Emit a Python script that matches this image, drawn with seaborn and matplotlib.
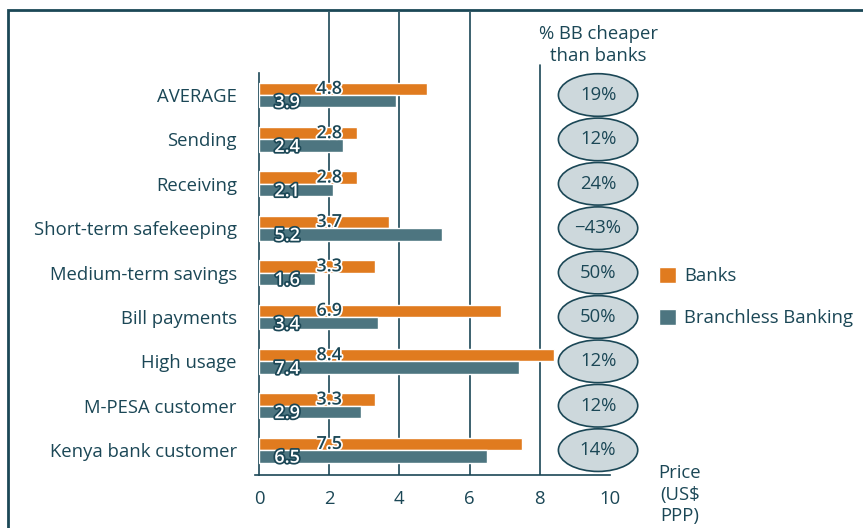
import pandas as pd
import seaborn as sns
import matplotlib.pyplot as plt
import matplotlib.patheffects as pe
from matplotlib.patches import Ellipse, Rectangle, Patch

categories = ["AVERAGE", "Sending", "Receiving", "Short-term safekeeping",
              "Medium-term savings", "Bill payments", "High usage",
              "M-PESA customer", "Kenya bank customer"]
banks = [4.8, 2.8, 2.8, 3.7, 3.3, 6.9, 8.4, 3.3, 7.5]
branchless = [3.9, 2.4, 2.1, 5.2, 1.6, 3.4, 7.4, 2.9, 6.5]
pct_cheaper = ["19%", "12%", "24%", "\u221243%", "50%", "50%", "12%", "12%", "14%"]

navy = "#1b4756"
orange = "#e07b1f"
slate = "#4d7580"

df = pd.DataFrame({
    "category": categories * 2,
    "price": banks + branchless,
    "series": ["Banks"] * len(categories) + ["Branchless Banking"] * len(categories),
})

sns.set_theme(style="white")
plt.rcParams['font.family'] = ['Open Sans', 'DejaVu Sans']
plt.rcParams['text.color'] = navy

fs = 13.3

fig = plt.figure(figsize=(8.63, 5.28), dpi=100)
ax = fig.add_axes([259 / 863, 53 / 528, 351 / 863, 463 / 528])

sns.barplot(data=df, y="category", x="price", hue="series", orient="h",
            palette=[orange, slate], width=0.56, saturation=1, ax=ax,
            legend=False, zorder=3)

ax.set_xlim(0, 10)
ax.set_ylim(8.56, -1.87)
ax.set_xlabel("")
ax.set_ylabel("")

# grid lines
for gx in [2, 4, 6]:
    ax.axvline(gx, color=navy, lw=1.2, zorder=1)
ax.axvline(8, ymax=0.885, color=navy, lw=1.2, zorder=1)

for s in ["top", "right"]:
    ax.spines[s].set_visible(False)
ax.spines["left"].set_color(navy)
ax.spines["bottom"].set_color(navy)
ax.spines["left"].set_linewidth(1.2)
ax.spines["bottom"].set_linewidth(1.2)
ax.spines["left"].set_bounds(-0.5, 8.56)
ax.spines["bottom"].set_bounds(-0.1, 10)

ax.set_xticks(range(0, 11, 2))
ax.tick_params(axis="x", colors=navy, labelsize=fs, length=6, width=1.2,
               direction="out", pad=5)
ax.set_yticks(range(len(categories)))
ax.set_yticklabels(categories)
ax.tick_params(axis="y", which="major", length=0, labelsize=fs, colors=navy, pad=16)
ax.set_yticks([i - 0.5 for i in range(len(categories) + 1)], minor=True)
ax.tick_params(axis="y", which="minor", length=6, width=1.2, color=navy, direction="out")

# value labels
for i, (b, bb) in enumerate(zip(banks, branchless)):
    ax.text(2.0, i - 0.14, f"{b}", ha="center", va="center", fontsize=13,
            fontweight="semibold", color=navy, zorder=5,
            path_effects=[pe.withStroke(linewidth=2.5, foreground="white")])
    ax.text(0.8, i + 0.17, f"{bb}", ha="center", va="center", fontsize=13,
            fontweight="semibold", color="white", zorder=5,
            path_effects=[pe.withStroke(linewidth=2.5, foreground=navy)])

# ellipses with % cheaper
ex = 9.66
for i, p in enumerate(pct_cheaper):
    e = Ellipse((ex, i), width=2.26, height=0.96, facecolor="#cdd8dc",
                edgecolor=navy, lw=1.2, clip_on=False, zorder=4)
    ax.add_patch(e)
    ax.text(ex, i, p, ha="center", va="center", fontsize=fs, color=navy,
            zorder=5, clip_on=False)

ax.text(ex, -1.13, "% BB cheaper\nthan banks", ha="center", va="center",
        fontsize=fs, color=navy, linespacing=1.3, clip_on=False)

fig.text(680 / 863, 1 - 495 / 528, "Price\n(US$\nPPP)", ha="center", va="center",
         fontsize=fs, color=navy, linespacing=1.25)

handles = [Patch(facecolor=orange, label="Banks"),
           Patch(facecolor=slate, label="Branchless Banking")]
leg = fig.legend(handles=handles, loc="center left",
                 bbox_to_anchor=(642 / 863, 1 - 297 / 528), frameon=False,
                 fontsize=fs, handlelength=0.95, handleheight=0.95,
                 handletextpad=0.45, labelspacing=1.3)
for t in leg.get_texts():
    t.set_color(navy)

# outer frame
fig.patches.append(Rectangle((8 / 863, -0.1), 1.2, 1 - 10 / 528 + 0.1,
                             transform=fig.transFigure, fill=False,
                             edgecolor=navy, lw=2))

fig.savefig("out.png", dpi=100)
